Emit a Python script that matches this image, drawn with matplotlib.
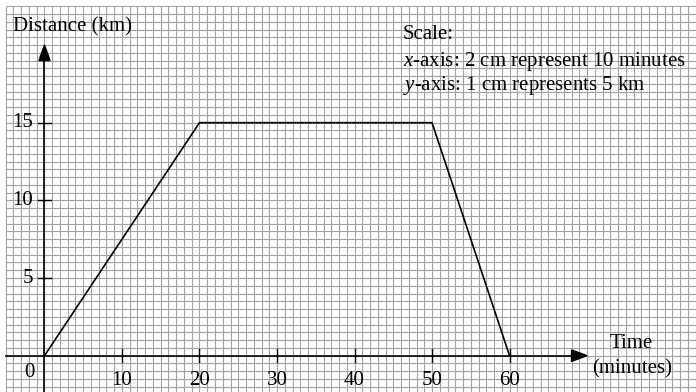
import numpy as np
import matplotlib
matplotlib.use('Agg')
import matplotlib.pyplot as plt

plt.rcParams['font.family'] = ['Liberation Serif', 'DejaVu Serif']
plt.rcParams['mathtext.fontset'] = 'custom'
plt.rcParams['mathtext.rm'] = 'Liberation Serif'
plt.rcParams['mathtext.it'] = 'Liberation Serif:italic'

# Journey: time (minutes) vs distance (km)
time_min = [0, 20, 50, 60]
distance_km = [0, 15, 15, 0]
x_ticks = [10, 20, 30, 40, 50, 60]
y_ticks = [5, 10, 15]

FS = 15

fig = plt.figure(figsize=(6.96, 3.92), dpi=100)
ax = fig.add_axes([0, 0, 1, 1])
ax.set_xlim(-5.74, 84.06)
ax.set_ylim(-2.34, 22.9)
ax.axis('off')

# Graph paper: 1 minute by 0.5 km squares.
x_grid = np.arange(-5, 85, 1)
y_grid = np.arange(-2.5, 22.6, 0.5)
ax.vlines(x_grid, -2.5, 22.5, color='#a3a3a3', lw=0.8, zorder=1)
ax.hlines(y_grid[y_grid >= -2.34], -5, 85, color='#a3a3a3', lw=0.8, zorder=1)

# Axes with arrows.
ax.plot([-5, 68.2], [0, 0], color='black', lw=1.2, zorder=3)
ax.plot([0, 0], [-2.5, 19.2], color='black', lw=1.2, zorder=3)
ax.fill([68.0, 70.0, 68.0], [-0.37, 0, 0.37], color='black', zorder=3)
ax.fill([-0.72, 0, 0.72], [19.0, 20.0, 19.0], color='black', zorder=3)

# Tick marks and labels.
for t in x_ticks:
    ax.plot([t, t], [-0.4, 0.45], color='black', lw=1.0, zorder=3)
    ax.text(t, -1.89, str(t), ha='center', va='baseline', fontsize=FS)
for t in y_ticks:
    ax.plot([-0.9, 0.9], [t, t], color='black', lw=1.0, zorder=3)
    ax.text(-1.45, t, str(t), ha='right', va='center', fontsize=FS)
ax.text(-1.96, -1.35, '0', ha='center', va='baseline', fontsize=FS)

# Distance-time graph.
ax.plot(time_min, distance_km, color='black', lw=1.2, zorder=4)

# Axis titles.
ax.text(-4.0, 21.17, 'Distance (km)', ha='left', va='center', fontsize=FS)
ax.text(75.7, 0.48, 'Time', ha='center', va='baseline', fontsize=FS)
ax.text(75.8, -1.18, '(minutes)', ha='center', va='baseline', fontsize=FS)

# Scale note.
ax.text(46.2, 20.37, 'Scale:', ha='left', va='baseline', fontsize=FS)
ax.text(46.2, 18.66, r'$x$-axis: 2 cm represent 10 minutes', ha='left',
        va='baseline', fontsize=FS)
ax.text(46.2, 17.12, r'$y$-axis: 1 cm represents 5 km', ha='left',
        va='baseline', fontsize=FS)

fig.savefig('out.png', dpi=100, facecolor='white')
plt.close(fig)
